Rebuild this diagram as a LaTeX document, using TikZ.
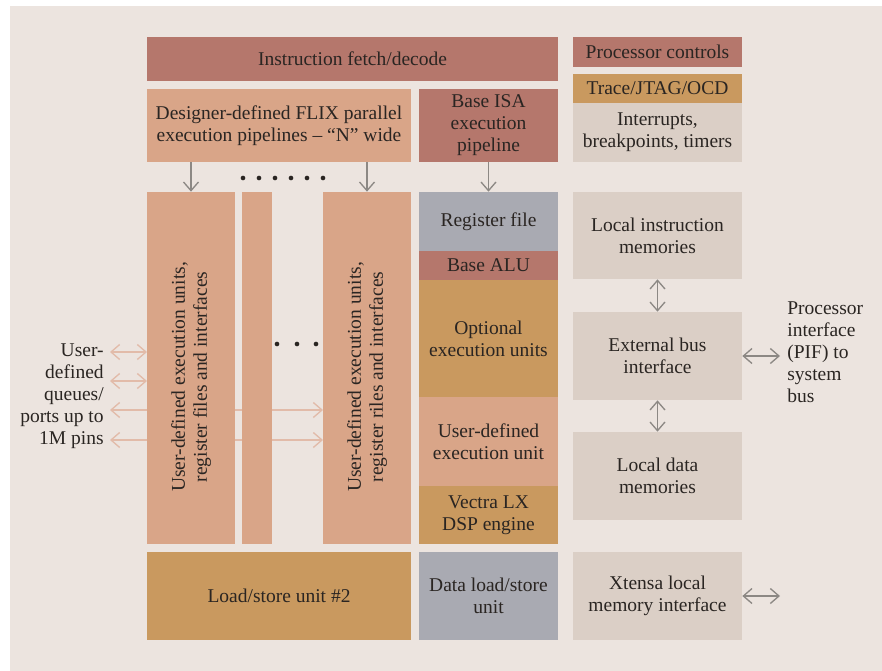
\documentclass[tikz,border=0pt]{standalone}
\usepackage{fontspec}
\setmainfont{Liberation Serif}
\usetikzlibrary{arrows.meta,fit}
\definecolor{bgcol}{HTML}{ECE4DF}
\definecolor{rose}{HTML}{B5776C}
\definecolor{salmon}{HTML}{D9A588}
\definecolor{ochre}{HTML}{C9995F}
\definecolor{slate}{HTML}{A9AAB2}
\definecolor{sand}{HTML}{DBCFC6}
\definecolor{inkcol}{HTML}{2A2522}
\definecolor{arrowgray}{HTML}{8C8884}
\definecolor{arrowpink}{HTML}{E2BBA9}
\tikzset{barb/.tip={Straight Barb[length=5.2pt,width=9pt]}}

\begin{document}
\begin{tikzpicture}[x=0.6pt,y=-0.6pt,
	blk/.style={fill=#1, inner sep=0pt},
	lbl/.style={inner sep=0pt, align=center, text=inkcol,
		font=\fontsize{11.7}{13.2}\selectfont},
	garrow/.style={draw=arrowgray, line width=0.8pt},
	parrow/.style={draw=arrowpink, line width=0.8pt}]
			%%%%% START %%%%%
			
			\useasboundingbox (0,0) rectangle (882,671);
			\fill[bgcol] (10,6) rectangle (882,671);
			
			% queue/port lines run behind the columns
			\coordinate (q1) at (110,352);
			\coordinate (q2) at (110,381);
			\coordinate (q3) at (110,410);
			\coordinate (q4) at (110,440);
			\coordinate (c1w) at (147,0);
			\coordinate (c3w) at (323,0);
			\draw[parrow, barb-barb] (q1) -- (q1 -| c1w);
			\draw[parrow, barb-barb] (q2) -- (q2 -| c1w);
			\draw[parrow, barb-barb] (q3) -- (q3 -| c3w);
			\draw[parrow, barb-barb] (q4) -- (q4 -| c3w);
			
			% blocks
			\node[blk=rose, fit={(147,37) (558,81)}] (ifd) {};
			\node[blk=rose, fit={(573,37) (742,67)}] (pctl) {};
			\node[blk=ochre, fit={(573,74) (742,103)}] (trace) {};
			\node[blk=sand, fit={(573,103) (742,162)}] (intr) {};
			\node[blk=salmon, fit={(147,89) (411,162)}] (flix) {};
			\node[blk=rose, fit={(419,89) (558,162)}] (isa) {};
			
			\node[blk=salmon, fit={(147,192) (235,544)}] (col1) {};
			\node[blk=salmon, fit={(242,192) (272,544)}] (col2) {};
			\node[blk=salmon, fit={(323,192) (411,544)}] (col3) {};
			
			\node[blk=slate, fit={(419,192) (558,251)}] (reg) {};
			\node[blk=rose, fit={(419,251) (558,280)}] (alu) {};
			\node[blk=ochre, fit={(419,280) (558,397)}] (opt) {};
			\node[blk=salmon, fit={(419,397) (558,486)}] (ude) {};
			\node[blk=ochre, fit={(419,486) (558,544)}] (vec) {};
			\node[blk=ochre, fit={(147,552) (411,640)}] (ls2) {};
			\node[blk=slate, fit={(419,552) (558,640)}] (dls) {};
			
			\node[blk=sand, fit={(573,192) (742,279)}] (lim) {};
			\node[blk=sand, fit={(573,312) (742,400)}] (ebi) {};
			\node[blk=sand, fit={(573,432) (742,520)}] (ldm) {};
			\node[blk=sand, fit={(573,552) (742,640)}] (xlm) {};
			
			% block texts
			\node[lbl] (ifd-t) at (ifd) {Instruction fetch/decode};
			\node[lbl] (pctl-t) at (pctl) {Processor controls};
			\node[lbl] (trace-t) at (trace) {Trace/JTAG/OCD};
			\node[lbl] (intr-t) at (intr) {Interrupts,\\breakpoints, timers};
			\node[lbl] (flix-t) at (flix) {Designer-defined FLIX parallel\\execution pipelines -- “N” wide};
			\node[lbl] (isa-t) at (isa) {Base ISA\\execution\\pipeline};
			\node[lbl, rotate=90] (col1-t) at (191,377) {User-defined execution units,\\register files and interfaces};
			\node[lbl, rotate=90] (col3-t) at (367,377) {User-defined execution units,\\register riles and interfaces};
			\node[lbl] (reg-t) at (reg) {Register file};
			\node[lbl] (alu-t) at (alu) {Base ALU};
			\node[lbl] (opt-t) at (opt) {Optional\\execution units};
			\node[lbl] (ude-t) at (ude) {User-defined\\execution unit};
			\node[lbl] (vec-t) at (vec) {Vectra LX\\DSP engine};
			\node[lbl] (ls2-t) at (ls2) {Load/store unit \#2};
			\node[lbl] (dls-t) at (dls) {Data load/store\\unit};
			\node[lbl] (lim-t) at (lim) {Local instruction\\memories};
			\node[lbl] (ebi-t) at (ebi) {External bus\\interface};
			\node[lbl] (ldm-t) at (ldm) {Local data\\memories};
			\node[lbl] (xlm-t) at (xlm) {Xtensa local\\memory interface};
			
			% side texts
			\node[lbl, align=right, anchor=east] (ports) at (104,396) {User-\\defined\\queues/\\ports up to\\1M pins};
			\node[lbl, align=left, anchor=west] (pif) at (787,352) {Processor\\interface\\(PIF) to\\system\\bus};
			\coordinate (pifEnd) at (780,356);
			\coordinate (xlmEnd) at (780,596);
			
			% connectors
			\draw[garrow, -barb] (flix.south -| col1) -- (col1.north);
			\draw[garrow, -barb] (flix.south -| col3) -- (col3.north);
			\draw[garrow, -barb] (isa) -- (reg);
			\draw[garrow, barb-barb] (lim) -- (ebi);
			\draw[garrow, barb-barb] (ebi) -- (ldm);
			\draw[garrow, barb-barb] (ebi.east) -- (pifEnd);
			\draw[garrow, barb-barb] (xlm.east) -- (xlmEnd);
			
			% dots
			\foreach \i in {0,...,5}
				\fill[inkcol] (243+16*\i,178) circle[radius=1.4pt];
			\foreach \xx in {277,297,316}
				\fill[inkcol] (\xx,344) circle[radius=1.4pt];
			
			%%%%% END %%%%%
\end{tikzpicture}
\end{document}
